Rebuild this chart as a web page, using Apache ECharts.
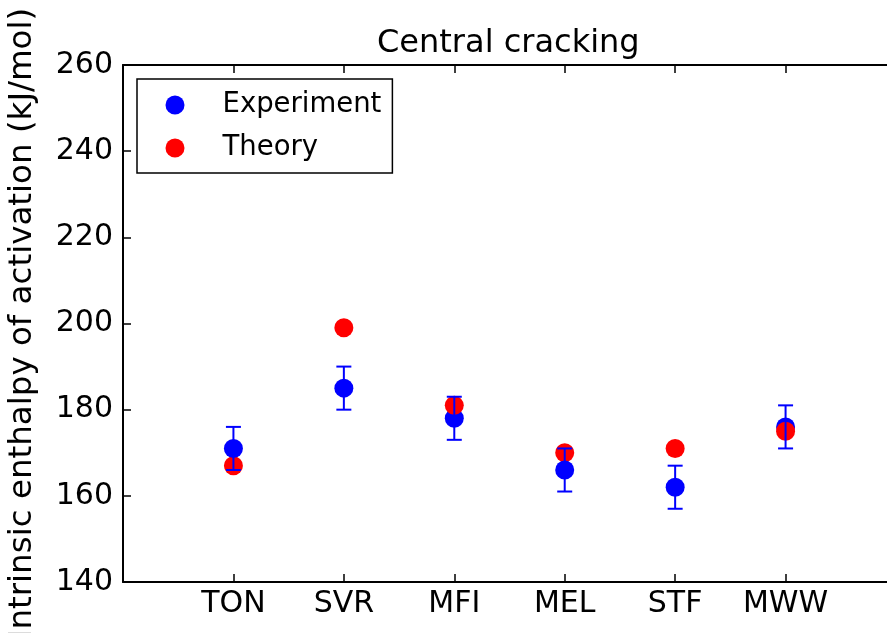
<!DOCTYPE html>
<html>
<head>
<meta charset="utf-8">
<script src="https://cdn.jsdelivr.net/npm/echarts@6/dist/echarts.min.js"></script>
<style>
html,body{margin:0;padding:0;background:#fff;}
#chart{width:887px;height:633px;}
</style>
</head>
<body>
<div id="chart"></div>
<script>
// ---- data ----
const categories = ['TON', 'SVR', 'MFI', 'MEL', 'STF', 'MWW'];
const experiment = [171, 185, 178, 166, 162, 176];
const experimentErr = [5, 5, 5, 5, 5, 5];
const theory = [167, 199, 181, 170, 171, 175];
const yTicks = [140, 160, 180, 200, 220, 240, 260];

// draw-order detail: categories where the red theory marker sits above the blue one
const theoryOnTop = ['MFI', 'MWW'];

const FONT = 'DejaVu Sans';
const BLUE = '#0000ff';
const RED = '#ff0000';
const R = 9.5;

const chart = echarts.init(document.getElementById('chart'), null, {renderer: 'canvas'});

function markerSeries(name, values, color, z2For) {
  return {
    type: 'custom',
    name: name,
    xAxisIndex: 0,
    yAxisIndex: 0,
    z: 2,
    itemStyle: {color: color},
    encode: {x: 0, y: 1},
    data: values.map((v, i) => [i + 1, v]),
    renderItem: function (params, api) {
      const p = api.coord([api.value(0), api.value(1)]);
      return {
        type: 'circle',
        z2: z2For(params.dataIndex),
        shape: {cx: p[0], cy: p[1], r: R},
        style: {fill: color, stroke: null}
      };
    }
  };
}

const errData = experiment.map((v, i) => [i + 1, v - experimentErr[i], v + experimentErr[i]]);

const option = {
  animation: false,
  backgroundColor: '#ffffff',
  title: {
    text: 'Central cracking',
    left: 377,
    top: 28,
    padding: 0,
    textStyle: {fontFamily: FONT, fontSize: 32, fontWeight: 'normal', color: '#000'}
  },
  legend: {
    orient: 'vertical',
    left: 137,
    top: 79,
    padding: [12, 11, 11, 28.5],
    itemGap: 15,
    itemWidth: 19,
    itemHeight: 19,
    borderColor: '#000',
    borderWidth: 1.5,
    borderRadius: 0,
    backgroundColor: '#fff',
    data: [
      {name: 'Experiment', icon: 'circle'},
      {name: 'Theory', icon: 'circle'}
    ],
    textStyle: {fontFamily: FONT, fontSize: 27.5, color: '#000', lineHeight: 26, padding: [0, 0, 0, 33]}
  },
  grid: {left: 123, top: 65, width: 773, height: 517, containLabel: false, outerBoundsMode: 'none'},
  xAxis: [
    {
      type: 'value',
      min: 0, max: 7, interval: 1,
      position: 'bottom',
      axisLine: {show: true, lineStyle: {color: '#000', width: 2}},
      axisTick: {show: true, inside: true, length: 8, lineStyle: {color: '#000', width: 1.5}},
      axisLabel: {
        show: true, margin: 7,
        fontFamily: FONT, fontSize: 30, color: '#000',
        formatter: function (v) { return categories[v - 1] || ''; }
      },
      splitLine: {show: false}
    },
    {
      type: 'value',
      min: 0, max: 7, interval: 1,
      position: 'top',
      axisLine: {show: true, lineStyle: {color: '#000', width: 2}},
      axisTick: {show: true, inside: true, length: 8, lineStyle: {color: '#000', width: 1.5}},
      axisLabel: {show: false},
      splitLine: {show: false}
    }
  ],
  yAxis: {
    type: 'value',
    min: yTicks[0], max: yTicks[yTicks.length - 1], interval: 20,
    name: 'Intrinsic enthalpy of activation (kJ/mol)',
    nameLocation: 'middle',
    nameGap: 84,
    nameTextStyle: {fontFamily: FONT, fontSize: 32.5, color: '#000'},
    axisLine: {show: true, lineStyle: {color: '#000', width: 2}},
    axisTick: {show: true, inside: true, length: 8, lineStyle: {color: '#000', width: 1.5}},
    axisLabel: {margin: 10, fontFamily: FONT, fontSize: 30, color: '#000'},
    splitLine: {show: false}
  },
  series: [
    markerSeries('Experiment', experiment, BLUE, function () { return 10; }),
    markerSeries('Theory', theory, RED, function (i) {
      return theoryOnTop.indexOf(categories[i]) >= 0 ? 20 : 5;
    }),
    {
      type: 'custom',
      name: 'errorbar',
      z: 3,
      xAxisIndex: 0,
      yAxisIndex: 0,
      encode: {x: 0, y: [1, 2]},
      data: errData,
      renderItem: function (params, api) {
        const x = api.value(0);
        const lo = api.coord([x, api.value(1)]);
        const hi = api.coord([x, api.value(2)]);
        const cw = 7.5;
        const st = {stroke: BLUE, lineWidth: 2, fill: null};
        return {
          type: 'group',
          children: [
            {type: 'line', shape: {x1: lo[0], y1: lo[1], x2: hi[0], y2: hi[1]}, style: st},
            {type: 'line', shape: {x1: lo[0] - cw, y1: lo[1], x2: lo[0] + cw, y2: lo[1]}, style: st},
            {type: 'line', shape: {x1: hi[0] - cw, y1: hi[1], x2: hi[0] + cw, y2: hi[1]}, style: st}
          ]
        };
      }
    }
  ]
};

chart.setOption(option);
</script>
</body>
</html>
